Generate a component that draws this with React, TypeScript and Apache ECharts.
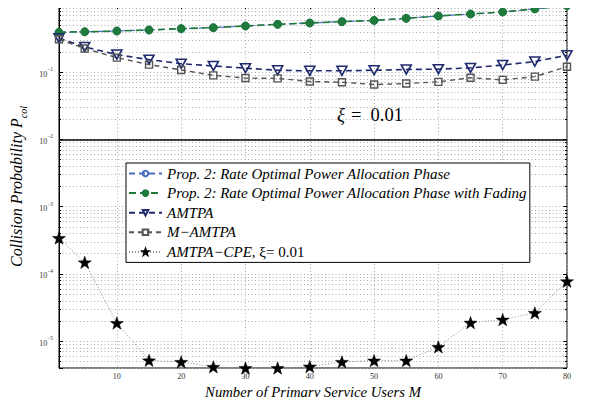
import { useEffect, useRef } from "react";
import * as echarts from "echarts";

// Number of primary service users M
const users = [1, 5, 10, 15, 20, 25, 30, 35, 40, 45, 50, 55, 60, 65, 70, 75, 80];

// Collision probability per scheme
const propPhase = [0.393, 0.4, 0.41, 0.425, 0.445, 0.46, 0.488, 0.516, 0.54, 0.565, 0.59, 0.634, 0.687, 0.735, 0.787, 0.873, 0.98];
const propFading = [0.393, 0.4, 0.41, 0.425, 0.445, 0.46, 0.488, 0.516, 0.54, 0.565, 0.59, 0.634, 0.687, 0.735, 0.787, 0.873, 0.98];
const amtpa = [0.32, 0.238, 0.183, 0.154, 0.134, 0.124, 0.115, 0.107, 0.105, 0.105, 0.107, 0.11, 0.111, 0.116, 0.128, 0.144, 0.179];
const mAmtpa = [0.309, 0.225, 0.165, 0.13, 0.108, 0.09, 0.082, 0.081, 0.073, 0.071, 0.0656, 0.068, 0.072, 0.083, 0.077, 0.086, 0.121];
const amtpaCpe = [3.43e-4, 1.49e-4, 1.87e-5, 5.2e-6, 4.93e-6, 4.16e-6, 4.0e-6, 4.0e-6, 4.2e-6, 4.93e-6, 5.16e-6, 5.16e-6, 8.24e-6, 1.89e-5, 2.1e-5, 2.64e-5, 7.8e-5];

// Axis ranges and ticks
const xTicks = [10, 20, 30, 40, 50, 60, 70, 80];
const xMin = 1;
const xMax = 80;
const yMin = 4e-6;
const yMax = 1;
const yLabelExponents = [-5, -4, -3, -2, -1];
const decadeExponents = [-6, -5, -4, -3, -2, -1];
const minorMantissas = [2, 3, 4, 5, 6, 7, 8, 9];
const threshold = 0.01;

const NAMES = {
  phase: "Prop. 2: Rate Optimal Power Allocation Phase",
  fading: "Prop. 2: Rate Optimal Power Allocation Phase with Fading",
  amtpa: "AMTPA",
  mAmtpa: "M\u2212AMTPA",
  cpe: "AMTPA\u2212CPE, \u03be= 0.01",
};

const SERIF = "'Liberation Serif', 'Times New Roman', serif";
const STAR =
  "path://M0,-10L2.35,-3.24L9.51,-3.09L3.8,1.24L5.88,8.09L0,4L-5.88,8.09L-3.8,1.24L-9.51,-3.09L-2.35,-3.24Z";
const GRID_DOTS = { type: [1, 2.5], color: "#aaa", width: 1 };

// Exponents of the 2..9 sub-decade lines, used by the helper axes in log10 space
const minorLog: number[] = [];
decadeExponents.forEach((e) => {
  minorMantissas.forEach((m) => {
    const v = m * Math.pow(10, e);
    if (v > yMin && v < yMax) minorLog.push(Math.log10(v));
  });
});
const logMin = Math.log10(yMin);
const logMax = Math.log10(yMax);

const pairs = (vals: number[]) => users.map((m, i) => [m, vals[i]]);

export default function App() {
  const ref = useRef<HTMLDivElement>(null);

  useEffect(() => {
    if (!ref.current) return;
    const chart = echarts.init(ref.current, null, { renderer: "svg" });

    const decadeLabel = (v: number) => {
      const e = Math.round(Math.log10(v));
      if (Math.abs(Math.log10(v) - e) > 1e-6) return "";
      if (!yLabelExponents.includes(e)) return "";
      return `{b|10}{s|\u2212${-e}}`;
    };

    const option = {
      animation: false,
      backgroundColor: "#fff",
      grid: {
        left: 59,
        right: 28,
        top: 5,
        bottom: 37,
        show: true,
        borderColor: "#000",
        borderWidth: 1,
        backgroundColor: "transparent",
      },
      legend: {
        orient: "vertical",
        left: 126,
        top: 163,
        padding: [3, 3, 3, 2],
        itemWidth: 33,
        itemHeight: 7,
        itemGap: 4.6,
        backgroundColor: "#fff",
        borderColor: "#000",
        borderWidth: 1,
        borderRadius: 0,
        selectedMode: false,
        z: 20,
        data: [NAMES.phase, NAMES.fading, NAMES.amtpa, NAMES.mAmtpa, NAMES.cpe],
        formatter: (name: string) =>
          name === NAMES.cpe ? "{i|AMTPA\u2212CPE,} {n|\u03be= 0.01}" : name,
        textStyle: {
          fontFamily: SERIF,
          fontStyle: "italic",
          fontSize: 15,
          lineHeight: 14,
          color: "#000",
          rich: {
            i: { fontFamily: SERIF, fontStyle: "italic", fontSize: 15, lineHeight: 14, color: "#000" },
            n: { fontFamily: SERIF, fontStyle: "normal", fontSize: 15, lineHeight: 14, color: "#000" },
          },
        },
      },
      xAxis: [
        {
          type: "value",
          min: xMin,
          max: xMax,
          name: "Number of Primary Service Users M",
          nameLocation: "middle",
          nameGap: 9,
          nameTextStyle: {
            fontFamily: SERIF,
            fontStyle: "italic",
            fontSize: 14.7,
            color: "#000",
          },
          axisLine: { lineStyle: { color: "#000", width: 1 } },
          axisTick: {
            inside: true,
            length: 4,
            customValues: xTicks,
            lineStyle: { color: "#000" },
          },
          axisLabel: {
            customValues: xTicks,
            fontFamily: SERIF,
            fontSize: 8,
            color: "#333",
            margin: 4,
          },
          splitLine: { show: true, lineStyle: GRID_DOTS },
        },
        {
          // top frame ticks
          type: "value",
          position: "top",
          min: xMin,
          max: xMax,
          axisLine: { show: false },
          axisTick: {
            inside: true,
            length: 4,
            customValues: xTicks,
            lineStyle: { color: "#000" },
          },
          axisLabel: { show: false, customValues: xTicks },
          splitLine: { show: false },
        },
      ],
      yAxis: [
        {
          type: "log",
          logBase: 10,
          min: yMin,
          max: yMax,
          name: "{t|Collision Probability P}{s|col}",
          nameLocation: "middle",
          nameGap: 31,
          nameTextStyle: {
            rich: {
              t: {
                fontFamily: SERIF,
                fontStyle: "italic",
                fontSize: 16,
                color: "#000",
                lineHeight: 24,
                verticalAlign: "middle",
              },
              s: {
                fontFamily: SERIF,
                fontStyle: "italic",
                fontSize: 10,
                color: "#000",
                lineHeight: 10,
                verticalAlign: "bottom",
              },
            },
          },
          axisLine: { lineStyle: { color: "#000", width: 1 } },
          axisTick: { inside: true, length: 4, lineStyle: { color: "#000" } },
          axisLabel: {
            margin: 6,
            formatter: decadeLabel,
            rich: {
              b: {
                fontFamily: SERIF,
                fontSize: 8,
                color: "#333",
                lineHeight: 12,
                verticalAlign: "bottom",
              },
              s: {
                fontFamily: SERIF,
                fontSize: 5.5,
                color: "#333",
                lineHeight: 6,
                verticalAlign: "top",
              },
            },
          },
          splitLine: { show: true, lineStyle: GRID_DOTS },
        },
        {
          // sub-decade grid and minor ticks, left side (log10 space)
          type: "value",
          position: "left",
          min: logMin,
          max: logMax,
          axisLine: { show: false },
          axisTick: {
            inside: true,
            length: 2,
            customValues: minorLog,
            lineStyle: { color: "#000" },
          },
          axisLabel: { show: false, customValues: minorLog },
          splitLine: { show: true, lineStyle: GRID_DOTS },
        },
        {
          // right frame ticks
          type: "log",
          logBase: 10,
          position: "right",
          min: yMin,
          max: yMax,
          axisLine: { show: false },
          axisTick: { inside: true, length: 4, lineStyle: { color: "#000" } },
          axisLabel: { show: false },
          splitLine: { show: false },
        },
        {
          // right minor ticks (log10 space)
          type: "value",
          position: "right",
          min: logMin,
          max: logMax,
          axisLine: { show: false },
          axisTick: {
            inside: true,
            length: 2,
            customValues: minorLog,
            lineStyle: { color: "#000" },
          },
          axisLabel: { show: false, customValues: minorLog },
          splitLine: { show: false },
        },
      ],
      graphic: [
        {
          type: "text",
          left: 337,
          top: 105,
          z: 50,
          style: {
            text: "{x|\u03be}\u2002{n|=\u20020.01}",
            rich: {
              x: { fontFamily: SERIF, fontStyle: "italic", fontSize: 18.5, fill: "#000" },
              n: { fontFamily: SERIF, fontSize: 18.5, fill: "#000" },
            },
          },
        },
      ],
      series: [
        {
          type: "line",
          name: "threshold",
          data: [],
          silent: true,
          z: 3,
          markLine: {
            silent: true,
            symbol: ["none", "none"],
            label: { show: false },
            lineStyle: { type: "solid", color: "#000", width: 1.6 },
            emphasis: { disabled: true },
            data: [{ yAxis: threshold }],
          },
        },
        {
          type: "line",
          name: NAMES.phase,
          data: pairs(propPhase),
          symbol: "circle",
          symbolSize: 7,
          lineStyle: { color: "#4a6cc4", width: 1.2, type: [6, 4] },
          itemStyle: { color: "rgba(0,0,0,0)", borderColor: "#4a6cc4", borderWidth: 1.2 },
          z: 4,
        },
        {
          type: "line",
          name: NAMES.fading,
          data: pairs(propFading),
          symbol: "circle",
          symbolSize: 8,
          lineStyle: { color: "#1f7a3c", width: 1.6, type: [7, 4] },
          itemStyle: { color: "#1f7a3c", borderColor: "#1f7a3c", borderWidth: 1 },
          z: 5,
        },
        {
          type: "line",
          name: NAMES.amtpa,
          data: pairs(amtpa),
          symbol: "triangle",
          symbolRotate: 180,
          symbolSize: [10, 9],
          lineStyle: { color: "#1f2a6e", width: 1.6, type: [6, 4] },
          itemStyle: { color: "rgba(255,255,255,0)", borderColor: "#1f2a6e", borderWidth: 1.6 },
          z: 6,
        },
        {
          type: "line",
          name: NAMES.mAmtpa,
          data: pairs(mAmtpa),
          symbol: "rect",
          symbolSize: 7,
          lineStyle: { color: "#555", width: 1.4, type: [5, 4] },
          itemStyle: { color: "rgba(255,255,255,0)", borderColor: "#555", borderWidth: 1.4 },
          z: 7,
        },
        {
          type: "line",
          name: NAMES.cpe,
          data: pairs(amtpaCpe),
          symbol: STAR,
          symbolKeepAspect: true,
          symbolSize: 13,
          clip: false,
          lineStyle: { color: "#888", width: 1, type: [1, 2] },
          itemStyle: { color: "#000", borderColor: "#000", borderWidth: 0.5 },
          z: 8,
        },
      ],
    };

    chart.setOption(option as any);
    return () => chart.dispose();
  }, []);

  return <div ref={ref} style={{ width: 595, height: 405, margin: -8 }} />;
}
